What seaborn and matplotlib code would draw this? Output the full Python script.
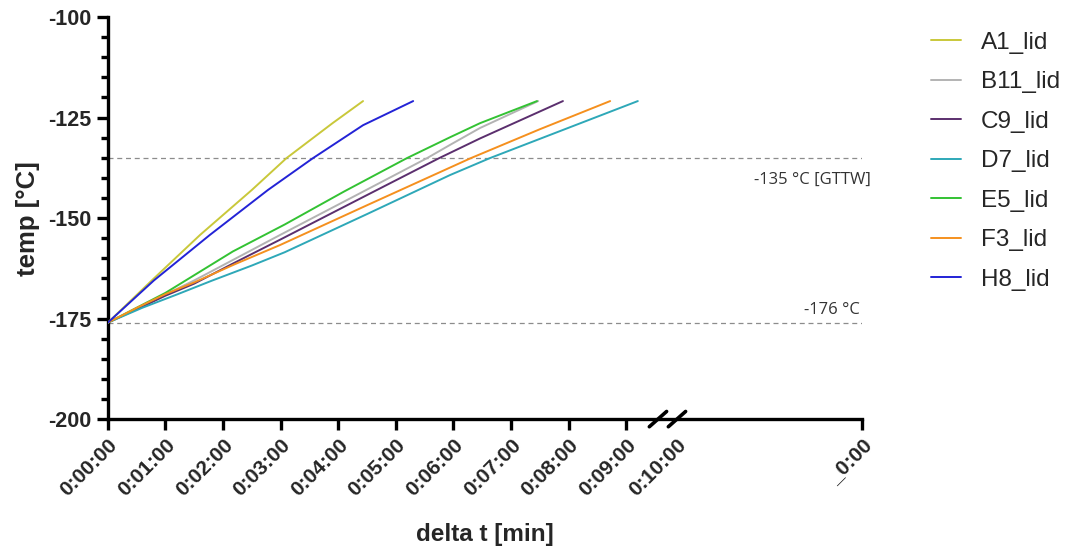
import matplotlib.pyplot as plt
import seaborn as sns
import pandas as pd
import numpy as np
from matplotlib.ticker import FixedLocator, MultipleLocator
import matplotlib.transforms as mtransforms

sns.set_theme(style="ticks")
plt.rcParams["font.family"] = ["Liberation Sans", "DejaVu Sans"]
plt.rcParams["axes.unicode_minus"] = False

# zeit in minuten, temperatur in °C
a1_t = [0, 0.8, 1.6, 2.5, 3.1, 3.9, 4.43]
a1_T = [-176, -165.0, -154.2, -143.0, -135.1, -126.4, -120.9]
b11_t = [0, 0.5, 1.0, 1.5, 2.2, 2.99, 4.3, 5.54, 5.94, 6.46, 7.47]
b11_T = [-176, -172.6, -169.0, -165.5, -160.2, -154.2, -144.4, -135.1, -131.8, -127.6, -120.9]
c9_t = [0, 0.5, 1.0, 1.5, 2.2, 3.0, 4.4, 5.75, 6.46, 7.9]
c9_T = [-176, -172.7, -169.3, -166.3, -161.1, -155.3, -145.0, -135.1, -130.2, -120.9]
d7_t = [0, 0.6, 1.2, 1.8, 2.5, 3.07, 4.5, 5.94, 6.63, 9.2]
d7_T = [-176, -172.3, -169.0, -165.6, -161.8, -158.5, -149.0, -139.3, -135.1, -120.9]
e5_t = [0, 0.5, 1.0, 1.5, 2.17, 3.07, 4.1, 5.19, 5.94, 6.46, 7.45]
e5_T = [-176, -172.3, -168.6, -164.2, -158.3, -151.6, -143.4, -135.1, -129.9, -126.4, -120.9]
f3_t = [0, 0.52, 1.0, 1.5, 2.2, 2.99, 4.5, 6.3, 7.5, 8.72]
f3_T = [-176, -172.2, -168.9, -166.0, -161.5, -156.7, -146.8, -135.1, -127.9, -120.9]
h8_t = [0, 0.8, 1.77, 2.78, 3.56, 4.43, 5.3]
h8_T = [-176, -165.5, -154.2, -143.0, -135.1, -126.9, -120.9]

proben = ["A1_lid", "B11_lid", "C9_lid", "D7_lid", "E5_lid", "F3_lid", "H8_lid"]
farben = ["#c9c83a", "#b3b3b3", "#5b2f6e", "#2ea8b8", "#33c233", "#f5901e", "#2323d6"]

x_ticks = [0, 1, 2, 3, 4, 5, 6, 7, 8, 9, 9.88, 13.09]
x_labels = ["0:00:00", "0:01:00", "0:02:00", "0:03:00", "0:04:00", "0:05:00",
            "0:06:00", "0:07:00", "0:08:00", "0:09:00", "0:10:00", "_0:00"]

zeiten = [a1_t, b11_t, c9_t, d7_t, e5_t, f3_t, h8_t]
temps = [a1_T, b11_T, c9_T, d7_T, e5_T, f3_T, h8_T]
df = pd.concat([pd.DataFrame({"t": t, "T": T, "probe": p})
                for t, T, p in zip(zeiten, temps, proben)], ignore_index=True)

fig = plt.figure(figsize=(10.68, 5.5), dpi=100)
ax = fig.add_axes([0.101, 0.238, 0.706, 0.731])

# schwellen
ax.axhline(-135, color="#8c8c8c", ls=(0, (4, 3)), lw=0.9, zorder=1)
ax.axhline(-176, color="#8c8c8c", ls=(0, (4, 3)), lw=0.9, zorder=1)

sns.lineplot(data=df, x="t", y="T", hue="probe", hue_order=proben,
             palette=dict(zip(proben, farben)), sort=False, estimator=None,
             lw=1.4, ax=ax, zorder=3)

ax.set_xlim(0, 13.09)
ax.set_ylim(-200, -100)
ax.yaxis.set_major_locator(MultipleLocator(25))
ax.yaxis.set_minor_locator(MultipleLocator(5))
ax.xaxis.set_major_locator(FixedLocator(x_ticks))
ax.set_xticklabels(x_labels, rotation=45, ha="right", rotation_mode="anchor",
                   fontweight="bold", fontsize=15)
for lab in ax.get_yticklabels():
    lab.set_fontweight("bold")
    lab.set_fontsize(15.5)
ax.xaxis.get_major_ticks()[10].tick1line.set_visible(False)

ax.tick_params(axis="both", which="major", length=8, width=2.4, color="black", pad=4)
ax.tick_params(axis="y", which="minor", length=5, width=2.4, color="black")
sns.despine(ax=ax)
for s in ["left", "bottom"]:
    ax.spines[s].set_linewidth(2.4)
    ax.spines[s].set_color("black")

ax.set_xlabel("delta t [min]", fontsize=17.5, fontweight="bold", labelpad=16)
ax.set_ylabel("temp [°C]", fontsize=18.5, fontweight="bold", labelpad=6)

# achsenbruch
tr = mtransforms.blended_transform_factory(ax.transData, ax.transAxes)
for xb in [9.55, 9.88]:
    ax.plot([xb - 0.15, xb + 0.15], [-0.019, 0.019], color="black", lw=2.6,
            transform=tr, clip_on=False, zorder=5)

ax.text(12.24, -140.5, "-135 °C [GTTW]", fontsize=12, color="#333333",
        ha="center", va="center", family=["Open Sans", "DejaVu Sans"])
ax.text(12.57, -172.9, "-176 °C", fontsize=12, color="#333333",
        ha="center", va="center", family=["Open Sans", "DejaVu Sans"])

handles, labels = ax.get_legend_handles_labels()
ax.get_legend().remove()
fig.legend(handles, labels, loc="upper left", bbox_to_anchor=(0.851, 0.982),
           frameon=False, fontsize=17.5, handlelength=1.25, handletextpad=0.8,
           labelspacing=0.72)

fig.savefig("out.png", dpi=100)
